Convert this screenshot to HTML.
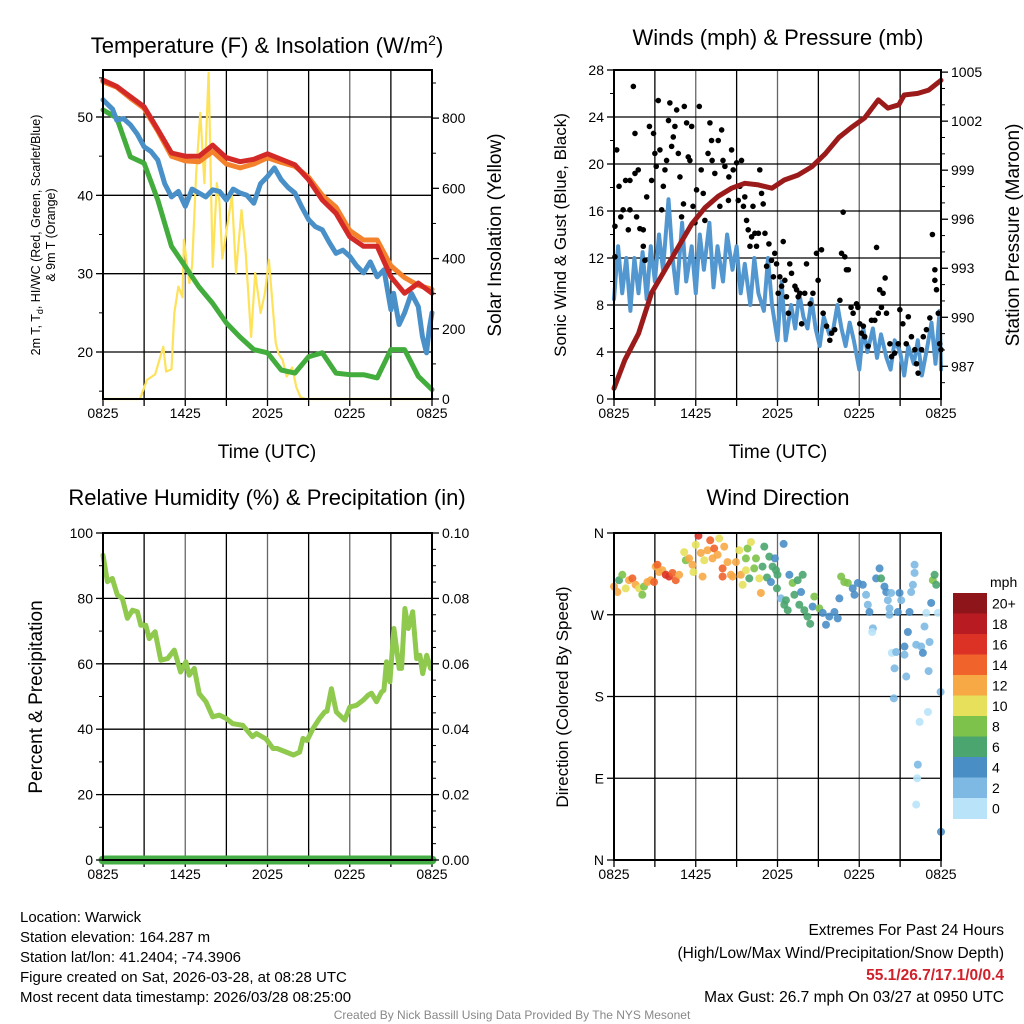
<!DOCTYPE html>
<html><head><meta charset="utf-8"><style>
html,body{margin:0;padding:0;background:#fff;}
svg{display:block;font-family:"Liberation Sans",sans-serif;}
</style></head><body>
<svg id="s" width="1024" height="1024" viewBox="0 0 1024 1024" xmlns="http://www.w3.org/2000/svg"></svg>
<script>
// ---- Panel 1: temperature (hourly, t = 0..24 h since 0825 UTC) ----
const hourT=[0,1,2,3,4,5,6,7,8,9,10,11,12,13,14,15,16,17,18,19,20,21,22,23,24];
const tempRed=[54.7,53.9,52.6,51.3,48.4,45.4,45.0,45.0,46.4,44.8,44.3,44.6,45.3,44.6,43.9,42.0,39.4,37.7,34.7,33.5,33.5,29.6,27.5,28.8,27.5];
const tempOrange=[54.5,53.8,52.4,51.1,48.2,45.0,44.4,44.3,45.6,44.0,43.5,44.0,44.8,44.2,43.7,42.3,40.0,38.5,35.5,34.3,34.3,31.0,29.5,28.5,28.0];
const blueT=[0,0.7,1,1.5,2,2.5,3,3.5,4,4.5,5,5.5,6,6.5,7,7.5,8,8.5,9,9.5,10,10.5,11,11.5,12,12.5,13,13.5,14,14.5,15,15.5,16,16.5,17,17.5,18,18.5,19,19.5,20,20.5,21,21.2,21.6,22,22.5,23,23.3,23.6,23.8,24];
const hiwcBlue=[52.2,51.0,49.6,49.8,49.0,47.8,46.2,45.6,44.5,41.5,39.8,40.5,38.6,40.8,40.3,39.8,40.7,40.5,39.4,40.8,40.3,40.0,39.0,41.5,42.4,43.5,42.0,41.0,40.3,38.5,36.9,36.0,35.6,34.0,32.6,33.0,32.2,31.0,30.1,31.5,29.6,30.5,25.4,27.5,23.5,25.0,27.5,25.8,22.0,19.9,23.0,25.0];
const dewGreen=[50.9,49.9,44.9,44.1,39.4,33.5,30.9,28.3,26.2,23.7,21.9,20.3,19.9,17.7,17.3,19.4,19.9,17.3,17.1,17.1,16.7,20.3,20.3,16.9,15.2];
const solarT=[0,2.7,3.2,3.8,4.4,4.6,5.0,5.2,5.5,5.8,5.9,6.3,6.5,6.8,7.1,7.4,7.7,8.0,8.3,8.5,8.7,9.4,9.7,10.1,10.4,10.8,11.1,11.5,11.8,12.1,12.6,12.8,13.1,13.4,13.8,14.1,14.4,14.8,15.2,15.6,24];
const solarIns=[0,0,54,70,149,78,85,245,320,290,453,330,380,644,815,615,929,376,615,560,400,580,359,538,420,177,359,245,300,396,160,130,111,64,90,34,5,0,0,0,0];
// ---- Panel 2: wind & pressure ----
const presT=[0,0.8,1.8,2.76,3.74,4.72,5.7,6.67,7.65,8.63,9.6,10.6,11.6,12.5,13.5,14.5,15.5,16.5,17.4,18.4,19.4,20.1,20.9,21.3,22.3,23.1,24];
const pressure=[985.65,987.4,989.0,991.5,992.9,994.3,995.7,996.7,997.4,997.9,998.2,998.1,997.9,998.4,998.7,999.2,1000.0,1001.0,1001.6,1002.2,1003.3,1002.8,1003.0,1003.6,1003.7,1003.9,1004.5];
const windT=[0,0.3,0.6,0.9,1.2,1.5,1.8,2.1,2.4,2.7,3.0,3.3,3.6,4.0,4.3,4.6,5.0,5.3,5.7,6.0,6.3,6.6,7.0,7.3,7.6,8.0,8.3,8.7,9.0,9.3,9.6,10.0,10.3,10.6,11.0,11.3,11.6,12.0,12.3,12.6,13.0,13.3,13.6,13.9,14.2,14.5,14.8,15.1,15.4,15.8,16.1,16.4,16.7,17.0,17.3,17.6,18.0,18.3,18.6,19.0,19.3,19.6,20.0,20.3,20.6,21.0,21.3,21.6,22.0,22.3,22.6,23.0,23.3,23.6,23.9,24.0];
const windSpd=[8.5,13,9,12,7.5,12,9,12.5,8.5,13,10,14,11,17,12,9,15,10,13,9,14,11,15,9.5,13,10,14,11,13,9,11.5,8,12,9,7.5,12,8,5,10,5,8,6,9,7,6,8.5,6,4.5,7,5.5,6,8,6,4.5,6.5,5,2.5,6,4,6,3.5,5.5,3.5,2.5,5,4,2,4.5,3,5,2,4.5,6.5,3,7.5,2.5];
const gustT=[0.07,0.2,0.07,0.37,0.5,0.67,0.85,1.05,1.17,1.17,1.42,1.54,1.54,1.66,1.78,1.9,2.15,2.15,2.27,2.4,2.6,2.76,2.9,3.0,3.1,3.25,3.37,3.5,3.62,3.74,3.86,4.0,4.1,4.23,4.35,4.47,4.6,4.72,4.84,4.96,5.1,5.16,5.33,5.45,5.57,5.7,5.8,5.94,6.06,6.26,6.4,6.55,6.67,6.9,7.04,7.16,7.2,7.4,7.65,7.77,7.9,8.0,8.14,8.4,8.43,8.63,8.75,9.0,9.12,9.24,9.36,9.5,9.6,9.73,9.85,9.98,10.1,10.2,10.34,10.46,10.6,10.7,10.83,10.95,11.08,11.2,11.37,11.56,11.7,11.8,11.93,12.05,12.17,12.3,12.42,12.54,12.66,12.8,12.9,13.03,13.28,13.4,13.52,13.64,13.77,14.0,14.13,14.4,14.6,14.86,14.98,15.23,15.35,15.6,15.84,15.97,16.2,16.58,16.7,16.82,16.94,17.06,17.2,17.4,17.55,17.8,17.9,18.04,18.16,18.3,18.4,18.65,18.9,19.14,19.27,19.4,19.5,19.63,19.75,19.9,20.0,20.25,20.37,20.6,20.86,20.98,21.2,21.45,21.6,21.83,22.08,22.2,22.32,22.57,22.7,22.93,23.18,23.37,23.55,23.55,23.67,23.8,23.9,24.0];
const gustSpd=[14.7,21.2,12.1,18.1,15.5,16.1,18.6,14.4,18.6,16.1,26.6,22.6,19.2,15.5,19.5,14.5,14.4,13.0,11.8,17.2,23.2,18.6,22.6,20.9,19.8,25.4,21.2,16.1,18.1,19.5,20.3,23.7,25.2,21.5,22.3,23.2,24.6,20.9,18.9,15.5,16.6,24.9,23.5,20.6,20.3,23.2,16.4,15.0,17.8,24.9,19.5,17.5,15.2,20.9,23.5,22.0,20.3,19.2,22.0,16.4,22.9,20.3,19.8,16.9,18.9,21.2,19.5,20.1,16.9,18.1,20.3,16.4,17.2,15.2,14.4,13.0,13.8,16.4,14.1,13.0,14.1,19.5,17.5,16.6,14.1,11.3,13.2,11.8,10.4,12.4,11.5,9.0,10.4,9.6,13.4,10.1,8.7,7.3,11.5,10.7,9.6,9.3,8.7,9.0,6.4,9.0,11.5,8.1,9.0,12.4,10.1,12.7,7.3,6.2,5.0,5.6,5.9,8.4,12.4,15.9,12.1,11.0,11.0,7.8,7.3,8.1,7.8,6.4,5.6,6.2,5.3,4.5,6.7,6.7,12.9,7.3,9.3,7.8,9.0,10.3,7.3,4.7,3.6,3.9,4.7,7.6,6.4,4.7,7.0,5.3,4.2,3.0,2.2,4.2,5.3,5.9,6.9,14.0,11.0,10.1,9.3,7.3,4.7,4.2];
// ---- Panel 3: RH ----
const rhT=[0,0.32,0.68,1.05,1.41,1.78,2.15,2.51,2.76,3.12,3.37,3.8,4.22,4.71,5.2,5.66,6.05,6.29,6.66,7.02,7.51,8.0,8.49,8.98,9.46,10.2,10.9,11.2,11.9,12.4,12.7,13.9,14.34,14.59,14.88,15.32,15.8,16.17,16.34,16.66,17.02,17.63,18.0,18.49,18.98,19.34,19.59,19.95,20.32,20.49,20.68,20.93,21.22,21.61,21.78,22.02,22.27,22.59,22.88,23.12,23.32,23.61,23.9];
const rhVal=[93.2,85.1,86.1,81.0,80.0,73.9,76.4,75.9,71.8,71.8,67.7,69.8,61.1,61.6,64.2,57.5,60.6,56.5,58.6,50.9,48.4,43.8,44.3,43.3,41.7,41.2,37.7,38.7,37.0,34.1,34.1,32.1,33.0,37.2,36.5,40.2,43.3,45.3,45.5,52.4,45.3,42.8,46.8,47.3,48.9,50.4,51.0,48.4,51.4,51.9,60.6,54.5,70.8,58.6,58.6,76.9,70.8,75.9,61.6,62.6,57.0,62.6,58.6,60.1];
const precipT=[0,24];
const precipVal=[0,0];
// ---- Panel 4: wind direction ----
const dirT=[0,0.25,0.37,0.61,0.86,1.1,1.35,1.59,1.84,2.08,2.2,2.45,2.7,2.94,3.06,3.19,3.31,3.55,3.8,4.04,4.29,4.53,4.78,5.15,5.27,5.51,5.76,5.83,6.0,6.2,6.37,6.5,6.62,6.86,7.06,7.23,7.35,7.6,7.72,7.97,7.97,8.09,8.33,8.58,8.7,8.95,9.19,9.31,9.44,9.68,9.8,10.05,9.68,9.93,10.29,10.42,10.66,10.78,10.9,11.03,11.23,11.4,11.52,11.64,11.81,11.89,12.0,11.96,12.25,12.45,12.5,12.62,12.75,12.87,13.11,13.24,13.48,13.6,13.73,13.85,13.97,14.2,14.4,14.58,14.7,15.07,15.32,15.56,15.8,16.18,16.42,16.54,16.67,16.9,17.16,17.52,17.65,17.9,18.26,18.5,18.63,18.75,19.0,18.95,19.24,19.49,19.6,19.85,19.98,20.1,20.22,20.22,20.34,20.39,20.59,20.54,20.71,20.83,20.96,21.08,21.32,21.32,21.45,21.57,21.69,21.81,21.94,22.06,22.06,22.18,22.43,22.3,22.25,22.18,22.55,22.67,22.79,22.92,23.04,23.09,23.16,23.28,23.4,23.53,23.65,23.77,23.97,24.0];
const dirDeg=[301,295,308,314,299,308,310,303,299,292,301,306,308,306,323,325,317,319,314,312,316,308,314,339,330,332,325,317,347,357,338,312,330,341,352,332,343,336,354,321,312,345,328,314,312,328,341,314,303,319,343,350,332,310,321,332,310,294,323,345,311,334,306,323,332,319,314,299,288,348,281,286,275,314,305,292,308,281,295,314,275,268,260,279,290,277,272,259,268,273,266,288,312,306,305,299,292,305,303,292,281,273,255,251,310,321,310,301,295,286,277,270,294,228,211,178,229,273,294,286,235,226,202,251,273,295,303,316,325,237,152,105,90,61,235,228,257,272,163,208,240,283,308,314,303,272,185,31];
const dirSpd=[12,12,6,8,10,12,14,12,10,8,8,12,13,14,13,15,12,13,16,17,15,15,12,10,8,12,12,10,10,16,12,12,11,13,14,12,14,12,10,14,15,12,12,12,13,12,10,12,10,10,8,10,8,7,8,8,10,12,7,7,7,6,4,6,4,6,6,6,2,4,6,6,6,4,8,6,6,6,4,6,6,6,6,4,8,8,4,4,4,4,4,4,8,8,8,4,4,4,4,2,2,4,2,0,4,4,6,4,4,2,2,2,2,0,2,2,2,4,4,2,4,2,2,4,4,2,2,2,2,2,0,2,0,0,2,4,2,0,0,2,2,4,8,6,6,0,2,4];
const speedBins=["0","2","4","6","8","10","12","14","16","18","20+"];
const speedColors=["#b9e3f8","#7db9e3","#4a8ec6","#4aa56e","#7dc24a","#e6e05a","#f7a945","#f0632a","#dc3226","#b81c22","#8e1519"];
const xTickLabels=["0825","1425","2025","0225","0825"];

const NS="http://www.w3.org/2000/svg";
const svg=document.getElementById('s');
function mk(tag,attrs,parent){const e=document.createElementNS(NS,tag);for(const k in attrs)e.setAttribute(k,attrs[k]);(parent||svg).appendChild(e);return e;}
function txt(str,x,y,size,attrs,parent){const e=mk('text',Object.assign({x:x,y:y,'font-size':size,fill:'#000'},attrs||{}),parent);e.textContent=str;return e;}
function lin(a,b,c,d){return v=>c+(v-a)*(d-c)/(b-a);}

function panel(L,R,T,B,name){
  const g=mk('g',{});
  
  
  const gx=lin(0,24,L,R);
  for(let h=3;h<24;h+=3){const l=mk('line',{x1:gx(h),x2:gx(h),y1:T,y2:B,stroke:h%6?'#000':'#666','stroke-width':1.3},g);
    }
  for(let h=0;h<=24;h+=3){mk('line',{x1:gx(h),x2:gx(h),y1:B,y2:B+7,stroke:'#000','stroke-width':1.3},g);}
  xTickLabels.forEach((s,i)=>{const t=txt(s,gx(i*6),B+19,14,{'text-anchor':'middle'},g);
    });
  return {g,gx};
}
function frame(L,R,T,B,g){mk('rect',{x:L,y:T,width:R-L,height:B-T,fill:'none',stroke:'#000','stroke-width':2},g);}
function yAxis(g,x,vals,fy,labels,side,minor){
  vals.forEach((v,i)=>{const y=fy(v);
    mk('line',{x1:x,x2:x+(side<0?-7:7),y1:y,y2:y,stroke:'#000','stroke-width':1.3},g);
    if(labels){const t=txt(labels[i],x+(side<0?-10:10),y+5,14,{'text-anchor':side<0?'end':'start'},g);
      }
  });
  (minor||[]).forEach(v=>{const y=fy(v);mk('line',{x1:x,x2:x+(side<0?-4:4),y1:y,y2:y,stroke:'#000','stroke-width':1},g);});
}
function hgrid(g,L,R,ys){ys.forEach(y=>{const l=mk('line',{x1:L,x2:R,y1:y,y2:y,stroke:'#000','stroke-width':1.3},g);
  });}
function path(g,xs,ys,fx,fy,color,w,name){let d='';xs.forEach((t,i)=>{d+=(i?'L':'M')+fx(t).toFixed(1)+','+fy(ys[i]).toFixed(1);});
  const p=mk('path',{d:d,fill:'none',stroke:color,'stroke-width':w,'stroke-linejoin':'round','stroke-linecap':'round'},g);
  return p;}
function rotText(s,x,y,size,g,name){const t=txt(s,x,y,size,{'text-anchor':'middle',transform:`rotate(-90 ${x} ${y})`},g);
  return t;}

// ===== Panel 1 =====
(function(){
  const L=103,R=432,T=70,B=399;const {g,gx}=panel(L,R,T,B,'temperature-panel');
  const fy=lin(14,56,B,T);const fs=lin(0,937,B,T);
  hgrid(g,L,R,[20,30,40,50].map(fy));
  path(g,solarT,solarIns,gx,fs,'#fde25a',2.2,'solar-insolation-line');
  path(g,hourT,dewGreen,gx,fy,'#42ad3c',5,'dewpoint-line');
  path(g,blueT,hiwcBlue,gx,fy,'#4a90c8',5,'heat-index-windchill-line');
  path(g,hourT,tempOrange,gx,fy,'#f4812b',5,'temp-9m-line');
  path(g,hourT,tempRed,gx,fy,'#d42a27',5,'temp-2m-line');
  frame(L,R,T,B,g);
  yAxis(g,L,[20,30,40,50],fy,['20','30','40','50'],-1,[15,25,35,45,55]);
  yAxis(g,R,[0,200,400,600,800],fs,['0','200','400','600','800'],1,[100,300,500,700,900]);
  const t=txt('Temperature (F) & Insolation (W/m',267,53,22,{'text-anchor':'middle'},g);
  
  const sp=mk('tspan',{dy:-8,'font-size':14},t);sp.textContent='2';
  const sp2=mk('tspan',{dy:8},t);sp2.textContent=')';
  const xl=txt('Time (UTC)',267,458,19,{'text-anchor':'middle'},g);
  const yl=txt('',40,235,12.5,{'text-anchor':'middle',transform:'rotate(-90 40 235)'},g);
  
  const a=mk('tspan',{x:40,dy:0},yl);a.textContent='2m T, T';const b=mk('tspan',{'font-size':9,dy:3},yl);b.textContent='d';
  const c=mk('tspan',{dy:-3},yl);c.textContent=', HI/WC (Red, Green, Scarlet/Blue)';
  const d=mk('tspan',{x:40,dy:15},yl);d.textContent='& 9m T (Orange)';
  rotText('Solar Insolation (Yellow)',501,235,19,g,'solar-y-axis-title');
})();
// ===== Panel 2 =====
(function(){
  const L=614,R=941,T=70,B=399;const {g,gx}=panel(L,R,T,B,'wind-pressure-panel');
  const fy=lin(0,28,B,T);const fp=lin(985,1005.13,B,T);
  hgrid(g,L,R,[4,8,12,16,20,24].map(fy));
  path(g,windT,windSpd,gx,fy,'#5397d0',4,'sonic-wind-line');
  gustT.forEach((t,i)=>{const c=mk('circle',{cx:gx(t),cy:fy(gustSpd[i]),r:2.8,fill:'#000'},g);
    });
  path(g,presT,pressure,gx,fp,'#9b1b1b',5,'pressure-line');
  frame(L,R,T,B,g);
  yAxis(g,L,[0,4,8,12,16,20,24,28],fy,['0','4','8','12','16','20','24','28'],-1,[2,6,10,14,18,22,26]);
  const pv=[987,990,993,996,999,1002,1005];
  yAxis(g,R,pv,fp,pv.map(String),1,[986,988,989,991,992,994,995,997,998,1000,1001,1003,1004]);
  const t=txt('Winds (mph) & Pressure (mb)',778,45,22,{'text-anchor':'middle'},g);
  
  const xl=txt('Time (UTC)',778,458,19,{'text-anchor':'middle'},g);
  rotText('Sonic Wind & Gust (Blue, Black)',566,235,17,g,'wind-y-axis-title');
  rotText('Station Pressure (Maroon)',1019,235,19,g,'pressure-y-axis-title');
})();
// ===== Panel 3 =====
(function(){
  const L=103,R=432,T=533,B=860;const {g,gx}=panel(L,R,T,B,'humidity-panel');
  const fy=lin(0,100,B,T);const fr=lin(0,0.1,B,T);
  hgrid(g,L,R,[20,40,60,80].map(fy));
  path(g,rhT,rhVal,gx,fy,'#8fc94e',5,'relative-humidity-line');
  path(g,precipT,precipVal,gx,fr,'#45ad45',9,'precipitation-line');
  frame(L,R,T,B,g);
  yAxis(g,L,[0,20,40,60,80,100],fy,['0','20','40','60','80','100'],-1,[10,30,50,70,90]);
  yAxis(g,R,[0,0.02,0.04,0.06,0.08,0.1],fr,['0.00','0.02','0.04','0.06','0.08','0.10'],1,[0.005,0.01,0.015,0.025,0.03,0.035,0.045,0.05,0.055,0.065,0.07,0.075,0.085,0.09,0.095]);
  const t=txt('Relative Humidity (%) & Precipitation (in)',267,505,22,{'text-anchor':'middle'},g);
  
  rotText('Percent & Precipitation',42,697,19,g,'humidity-y-axis-title');
})();
// ===== Panel 4 =====
(function(){
  const L=614,R=941,T=533,B=860;const {g,gx}=panel(L,R,T,B,'wind-direction-panel');
  const fy=lin(0,360,B,T);
  hgrid(g,L,R,[90,180,270].map(fy));
  dirT.forEach((t,i)=>{const bin=Math.min(10,Math.floor(dirSpd[i]/2));
    const c=mk('circle',{cx:gx(t),cy:fy(dirDeg[i]),r:4,fill:speedColors[bin],'fill-opacity':0.9},g);
    });
  frame(L,R,T,B,g);
  yAxis(g,L,[0,90,180,270,360],fy,['N','E','S','W','N'],-1);
  const t=txt('Wind Direction',778,505,22,{'text-anchor':'middle'},g);
  
  rotText('Direction (Colored By Speed)',568,697,17,g,'direction-y-axis-title');
  const lg=mk('g',{},g);
  const top=593,h=20.5;
  for(let i=0;i<11;i++){const k=10-i;
    const r=mk('rect',{x:953,y:top+i*h,width:34,height:h+0.5,fill:speedColors[k]},lg);
    
    const l=txt(speedBins[k],992,top+i*h+h/2+5,14,{},lg);
    }
  const m=txt('mph',990,587,14,{},lg);
})();
// ===== Footer text =====
(function(){
  const info=['Location: Warwick','Station elevation: 164.287 m','Station lat/lon: 41.2404; -74.3906','Figure created on Sat, 2026-03-28, at 08:28 UTC','Most recent data timestamp: 2026/03/28 08:25:00'];
  const g=mk('g',{});
  info.forEach((s,i)=>{const t=txt(s,20,922+i*20,15,{},g);});
  const g2=mk('g',{});
  const a=txt('Extremes For Past 24 Hours',1004,935,15.5,{'text-anchor':'end'},g2);
  const b=txt('(High/Low/Max Wind/Precipitation/Snow Depth)',1004,958,15.5,{'text-anchor':'end'},g2);
  const c=txt('55.1/26.7/17.1/0/0.4',1004,980,15.5,{'text-anchor':'end',fill:'#d0202a','font-weight':'bold'},g2);
  const d=txt('Max Gust: 26.7 mph On 03/27 at 0950 UTC',1004,1002,15.5,{'text-anchor':'end'},g2);
  const e=txt('Created By Nick Bassill Using Data Provided By The NYS Mesonet',512,1019,12,{'text-anchor':'middle',fill:'#888'});
})();
</script>
</body></html>
